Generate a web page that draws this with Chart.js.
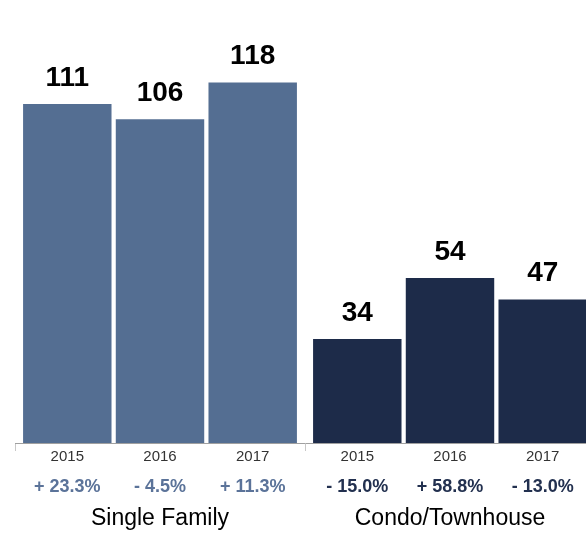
<!DOCTYPE html>
<html>
<head>
<meta charset="utf-8">
<script src="https://cdn.jsdelivr.net/npm/chart.js@4"></script>
<style>
  html, body { margin: 0; padding: 0; background: #fff; overflow: hidden; width: 586px; height: 534px; }
  #wrap { position: absolute; left: 0; top: 0; width: 600px; height: 534px; }
</style>
</head>
<body>
<div id="wrap"><canvas id="c"></canvas></div>
<script>
const groups = ["Single Family", "Condo/Townhouse"];
const years = ["2015", "2016", "2017"];
const values2015 = [111, 34];
const values2016 = [106, 54];
const values2017 = [118, 47];
const change2015 = ["+ 23.3%", "- 15.0%"];
const change2016 = ["- 4.5%", "+ 58.8%"];
const change2017 = ["+ 11.3%", "- 13.0%"];

const barColors = ["#546e92", "#1d2b49"];
const changeColors = ["#5b7399", "#22304f"];
const FONT = "'Liberation Sans', Arial, Helvetica, sans-serif";

const seriesValues = [values2015, values2016, values2017];
const seriesChanges = [change2015, change2016, change2017];

const labelsPlugin = {
  id: 'labels',
  afterDatasetsDraw(chart) {
    const ctx = chart.ctx;
    const base = chart.chartArea.bottom;
    ctx.save();
    ctx.textAlign = 'center';
    chart.data.datasets.forEach((ds, di) => {
      const meta = chart.getDatasetMeta(di);
      meta.data.forEach((bar, i) => {
        ctx.fillStyle = '#000';
        ctx.font = `bold 28px ${FONT}`;
        ctx.textBaseline = 'alphabetic';
        ctx.fillText(String(ds.data[i]), bar.x, bar.y - 18);
        ctx.fillStyle = '#333';
        ctx.font = `15px ${FONT}`;
        ctx.textBaseline = 'middle';
        ctx.fillText(years[di], bar.x, base + 14);
        ctx.fillStyle = changeColors[i];
        ctx.font = `bold 18px ${FONT}`;
        ctx.fillText(seriesChanges[di][i], bar.x, base + 44);
      });
    });
    const xs = chart.scales.x;
    ctx.fillStyle = '#000';
    ctx.font = `23px ${FONT}`;
    ctx.textBaseline = 'alphabetic';
    groups.forEach((g, i) => {
      ctx.fillText(g, xs.getPixelForValue(i), base + 82);
    });
    ctx.restore();
  }
};

new Chart(document.getElementById('c'), {
  type: 'bar',
  data: {
    labels: groups,
    datasets: years.map((y, di) => ({
      label: y,
      data: seriesValues[di],
      backgroundColor: barColors,
      borderWidth: 0,
      categoryPercentage: 0.959,
      barPercentage: 0.954
    }))
  },
  options: {
    responsive: true,
    maintainAspectRatio: false,
    animation: false,
    layout: { padding: { left: 15, right: 5, top: 0, bottom: 0 } },
    plugins: { legend: { display: false }, tooltip: { enabled: false } },
    scales: {
      y: { display: false, min: 0, max: 145 },
      x: {
        offset: true,
        ticks: { display: false },
        grid: { offset: true, drawOnChartArea: false, drawTicks: true, tickLength: 8, color: '#c8c8c8', lineWidth: 1 },
        border: { display: true, color: '#a0a0a0', width: 1 },
        afterFit(s) { s.height = 91; }
      }
    }
  },
  plugins: [labelsPlugin]
});
</script>
</body>
</html>
